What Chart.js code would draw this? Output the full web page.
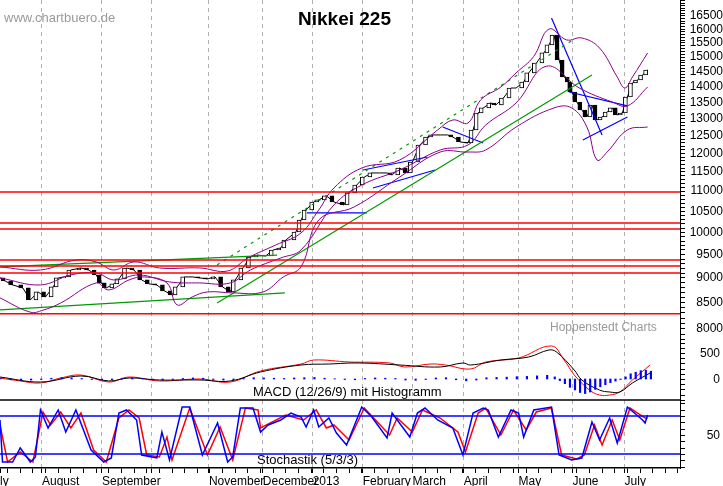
<!DOCTYPE html>
<html>
<head>
<meta charset="utf-8">
<script src="https://cdn.jsdelivr.net/npm/chart.js@4/dist/chart.umd.min.js"></script>
<style>
  body { margin: 0; background: #fff; }
  #wrap { position: relative; width: 723px; height: 486px; font-family: "Liberation Sans", Arial, sans-serif; }
  .txt { position: absolute; white-space: nowrap; }
</style>
</head>
<body>
<div id="wrap">
  <canvas id="nikkeiChart" width="723" height="486"></canvas>
  <div class="txt" style="left:4px;top:10px;font-size:13px;color:#9a9a9a;">www.chartbuero.de</div>
  <div class="txt" style="left:298px;top:8px;font-size:19px;font-weight:bold;color:#000;">Nikkei 225</div>
  <div class="txt" style="left:550px;top:320px;font-size:12px;color:#9a9a9a;">Hoppenstedt Charts</div>
  <div class="txt" style="left:253px;top:384px;font-size:13px;color:#000;">MACD (12/26/9) mit Histogramm</div>
  <div class="txt" style="left:257px;top:452px;font-size:13px;color:#000;">Stochastik (5/3/3)</div>
</div>
<script>
// x unit = trading day since mid July 2012
var dayMax = 268.8;
var monthDays = [0, 16.6, 40.3, 60, 82.6, 103.9, 123.6, 143.4, 163.1, 183.3, 205, 226.3, 246.9];
var monthNames = ['ly', 'August', 'September', '', 'November', 'December', '2013', 'February', 'March', 'April', 'May', 'June', 'July'];

var priceDays = [0,2,5,9,12,15,18,21,23,26,28,32,35,38,40,42,45,47,50,53,56,59,62,65,68,70,73,76,79,82,85,88,91,93,96,99,102,105,108,111,113,117,119,121,124,126,129,132,136,138,141,144,147,150,153,155,158,161,163,166,169,171,174,177,179,182,185,187,189,191,194,196,199,202,204,207,209,212,215,217,219,221,223,225,226,228,230,232,234,236,238,240,242,244,246,248,250,252,254,256];
var priceClose = [8998,8935,8853,8792,8551,8711,8611,8812,8998,9019,9165,9208,9165,9061,8894,8792,8874,8977,9208,9165,8956,8874,8853,8731,8651,8812,9019,9019,8998,8977,9019,8812,8711,8956,9208,9445,9487,9466,9599,9644,9824,10008,10290,10531,10728,10778,10880,10728,10654,10954,11157,11366,11473,11473,11473,11420,11606,11473,11768,12240,12470,12528,12528,12528,12470,12326,12297,12673,13181,13336,13491,13428,13647,13966,13966,14161,14463,14799,15147,15430,15790,14902,14326,14161,13838,13522,13273,13060,13428,12970,13060,13212,13336,13121,13181,13679,14130,14228,14394,14561];

var upperDays = [0,16,30,38,45,53,63,79,90,98,109,119,126,132,143,158,173,179,185,190,198,204,211,217,224,230,237,244,247,250,256];
var upperBand = [9230,9165,9380,9337,9165,9337,9208,9208,9144,9424,9711,9985,10531,11081,11606,11823,12673,12970,12880,13584,13999,14463,15027,16009,15610,15682,15321,14326,13966,14326,15147];
var midDays = [0,16,28,38,45,55,67,79,91,99,111,119,132,143,158,174,185,192,204,216,229,242,248,256];
var midBand = [8998,8853,9061,9103,8956,9061,8915,8894,8894,9165,9424,9599,10654,11157,11552,12100,12240,12820,13491,14689,13966,13522,13399,13999];
var lowerDays = [0,12,17,24,38,43,51,57,66,70,76,82,92,104,112,119,126,140,158,174,185,192,204,219,226,232,236,240,248,256];
var lowerBand = [8591,8312,8351,8491,8894,8751,8956,9019,8894,8454,8611,8711,8691,8711,9019,9230,10290,10605,11366,12042,12042,12100,12760,13337,13337,12760,11823,12042,12673,12760];

var redLevels = [10980, 10220, 10075, 9380, 9250, 9100, 8280];
var greenLines = [[0,8356,112.6,8691],[0,9230,109.5,9487],[85.8,8492,234,14394]];
var greenDashed = [[85.8,9272,226.5,15610]];
var blueLines = [[121.3,10458,145,10458],[143.5,11552,169,11905],[147.4,11081,172,11552],[175,12760,191,12297],[218,16424,238,12526],[225,13838,248,13399],[230.4,12383,248,13060]];

var macdDays = [0,16,32,43,51,63,79,91,103,119,130,142,158,174,183,186,198,209,217,220,227,230,237,241,245,250,257];
var macdLine = [38,-58,58,-38,19,-19,-19,-38,135,269,288,308,269,231,308,269,365,423,558,519,173,-19,-212,-250,-250,-77,115];
var signalDays = [0,8,16,24,32,43,51,63,79,91,103,119,124,138,154,160,170,176,186,192,205,218,223,227,233,237,241,245,250,257];
var signalLine = [19,-38,-77,19,77,-58,38,-38,0,-58,154,288,365,327,308,231,288,269,192,327,404,635,365,77,-212,-308,-308,-250,-19,269];
var histDays = [0,4,8,12,16,20,24,28,32,36,40,44,48,52,56,60,64,68,72,76,80,84,88,92,96,100,104,108,112,116,120,124,128,132,136,140,144,148,152,156,160,164,168,172,176,180,184,188,192,196,200,204,208,212,216,219,221,223,225,227,229,231,233,235,237,239,241,243,245,247,249,251,253,255,257];
var histValues = [10,-15,-25,-20,-10,15,25,20,10,-10,-20,-15,10,20,10,-15,-20,-10,10,20,15,-10,-20,-15,10,25,20,15,10,20,25,30,15,5,-10,-15,10,20,15,10,-20,-25,-10,20,25,-15,-35,-20,25,30,35,45,50,60,70,40,-30,-90,-160,-210,-260,-280,-250,-200,-150,-110,-70,-40,-10,40,100,130,160,170,150];

var stochKDays = [0,1,5,8,12,14,16,19,23,26,30,36,41,44,47,50,54,56,62,64,67,72,75,80,86,90,92,95,100,103,106,111,115,119,121,124,126,130,133,137,143,147,153,155,162,165,168,173,179,183,187,191,193,197,202,205,207,211,218,221,226,230,234,237,241,244,248,254,255,256];
var stochK = [73.7,7.4,7.4,29.5,7.4,15.3,89.5,61.1,89.5,54.7,89.5,26.3,7.4,13.7,84.7,89.5,73.7,18.4,13.7,54.7,10.5,94.2,94.2,18.4,68.9,7.4,15.3,92.6,92.6,54.7,65.8,73.7,84.7,78.4,62.6,89.5,62.6,76.8,53.2,34.2,94.2,78.4,45.3,84.7,46.8,84.7,92.6,73.7,61.1,18.4,84.7,92.6,89.5,46.8,89.5,84.7,46.8,89.5,94.2,18.4,10.5,13.7,70.5,42.1,76.8,37.4,94.2,73.7,68.9,81.6];
var stochDDays = [0,3,8,13,17,20,24,28,32,37,42,47,51,55,58,63,66,68,75,82,87,92,97,102,103,113,120,125,129,132,138,144,154,157,163,167,174,181,184,189,192,198,203,208,212,218,222,228,231,235,238,242,245,249,255,256];
var stochD = [65.8,7.4,23.2,7.4,86.3,65.8,86.3,61.1,84.7,26.3,7.4,76.8,89.5,76.8,18.4,15.3,46.8,10.5,92.6,18.4,62.6,10.5,92.6,89.5,61.1,81.6,73.7,89.5,61.1,65.8,42.1,92.6,50,76.8,54.7,89.5,76.8,54.7,23.2,84.7,92.6,50,89.5,57.9,86.3,92.6,18.4,12.1,18.4,65.8,34.2,73.7,42.1,92.6,76.8,76.8];
var stochLevels = [80, 20];
var panelBorder = 105.3; // stochastic scale value of the MACD/stochastic divider

function pts(xs, ys) {
  return xs.map(function (x, i) { return { x: x, y: ys[i] }; });
}
function seg(s) { return [{ x: s[0], y: s[1] }, { x: s[2], y: s[3] }]; }
function lineDs(data, color, axis, extra) {
  var ds = { type: 'line', data: data, borderColor: color, borderWidth: 1, pointRadius: 0, yAxisID: axis, tension: 0 };
  for (var k in extra) ds[k] = extra[k];
  return ds;
}

var datasets = [];
redLevels.forEach(function (v) {
  datasets.push(lineDs([{ x: 0, y: v }, { x: dayMax, y: v }], '#ff0000', 'y', { borderWidth: 1.5 }));
});
datasets.push(lineDs([{ x: 0, y: panelBorder }, { x: dayMax, y: panelBorder }], '#000000', 'yStoch', { borderWidth: 1.5 }));
stochLevels.forEach(function (v) {
  datasets.push(lineDs([{ x: 0, y: v }, { x: dayMax, y: v }], '#0000ff', 'yStoch', { borderWidth: 1.5 }));
});
datasets.push(lineDs(pts(upperDays, upperBand), '#8b008b', 'y', { tension: 0.4 }));
datasets.push(lineDs(pts(midDays, midBand), '#8b008b', 'y', { tension: 0.4 }));
datasets.push(lineDs(pts(lowerDays, lowerBand), '#8b008b', 'y', { tension: 0.4 }));
greenLines.forEach(function (s) { datasets.push(lineDs(seg(s), '#009900', 'y', { borderWidth: 1.2 })); });
greenDashed.forEach(function (s) { datasets.push(lineDs(seg(s), '#009900', 'y', { borderDash: [3, 5], borderWidth: 1.2 })); });
blueLines.forEach(function (s) { datasets.push(lineDs(seg(s), '#0000ff', 'y', { borderWidth: 1.2 })); });

// candle bodies: previous close to close
var candles = priceDays.map(function (d, i) {
  var open = i === 0 ? priceClose[0] * 1.003 : priceClose[i - 1];
  return { x: d, y: [open, priceClose[i]] };
});
datasets.push({
  type: 'bar', data: candles, yAxisID: 'y', barThickness: 4, borderSkipped: false, borderWidth: 1,
  borderColor: '#000',
  backgroundColor: candles.map(function (c) { return c.y[1] < c.y[0] ? '#000' : '#fff'; })
});
datasets.push(lineDs(pts(priceDays, priceClose), '#000', 'y', { borderWidth: 1 }));

datasets.push({ type: 'bar', data: pts(histDays, histValues), yAxisID: 'yMacd', barThickness: 1.5, backgroundColor: '#0000ff' });
datasets.push(lineDs(pts(macdDays, macdLine), '#000', 'yMacd', { tension: 0.4 }));
datasets.push(lineDs(pts(signalDays, signalLine), '#ff0000', 'yMacd', { tension: 0.4 }));
datasets.push(lineDs(pts(stochKDays, stochK), '#0000ff', 'yStoch', { borderWidth: 1.5 }));
datasets.push(lineDs(pts(stochDDays, stochD), '#ff0000', 'yStoch', { borderWidth: 1.5 }));

var labelFont = { family: '"Liberation Sans", Arial, sans-serif', size: 12 };

// tick labels for the two lower panels, read through their hidden scales
var panelAxes = {
  id: 'panelAxes',
  afterDraw: function (chart) {
    var ctx = chart.ctx, right = chart.chartArea.right;
    ctx.save();
    ctx.strokeStyle = '#000';
    ctx.lineWidth = 1;
    ctx.fillStyle = '#000';
    ctx.font = '12px "Liberation Sans", Arial, sans-serif';
    ctx.textAlign = 'right';
    ctx.textBaseline = 'middle';
    var m = chart.scales.yMacd, s = chart.scales.yStoch;
    for (var v = -400; v <= 700; v += 100) {
      var y = Math.round(m.getPixelForValue(v)) + 0.5;
      ctx.beginPath(); ctx.moveTo(right, y); ctx.lineTo(right + 5, y); ctx.stroke();
      if (v === 500 || v === 0) ctx.fillText(String(v), chart.width - 3, y);
    }
    for (var w = 0; w <= 100; w += 10) {
      var y2 = Math.round(s.getPixelForValue(w)) + 0.5;
      ctx.beginPath(); ctx.moveTo(right, y2); ctx.lineTo(right + 5, y2); ctx.stroke();
      if (w === 50) ctx.fillText('50', chart.width - 3, y2);
    }
    ctx.restore();
  }
};

new Chart(document.getElementById('nikkeiChart').getContext('2d'), {
  type: 'line',
  data: { datasets: datasets },
  plugins: [panelAxes],
  options: {
    responsive: false,
    animation: false,
    layout: { padding: 0 },
    plugins: { legend: { display: false }, tooltip: { enabled: false } },
    scales: {
      x: {
        type: 'linear', min: 0, max: dayMax, position: 'bottom', offset: false,
        afterBuildTicks: function (scale) {
          var t = monthDays.map(function (d) { return { value: d, major: true }; });
          for (var d = 3; d < dayMax; d += 5) t.push({ value: d });
          t.sort(function (a, b) { return a.value - b.value; });
          scale.ticks = t;
        },
        afterFit: function (scale) {
          scale.height = 18;
          scale.paddingLeft = 0; scale.paddingRight = 0;
        },
        ticks: {
          autoSkip: false, maxRotation: 0, align: 'start', padding: 1,
          color: '#000', font: labelFont,
          callback: function (v) { var i = monthDays.indexOf(v); return i >= 0 ? monthNames[i] : ''; }
        },
        grid: {
          offset: false,
          color: function (c) { return c.tick && c.tick.major && c.tick.value > 0 ? '#b0b0b0' : 'rgba(0,0,0,0)'; },
          tickColor: '#000', tickLength: 5, tickBorderDash: [], borderDash: [4, 4]
        },
        border: { color: '#000', width: 1.5, dash: [4, 4] }
      },
      y: {
        type: 'logarithmic', position: 'right', min: 5795, max: 17122,
        afterBuildTicks: function (scale) {
          var t = [];
          for (var v = 7800; v <= 17100; v += 100) t.push({ value: v });
          scale.ticks = t;
        },
        afterFit: function (scale) {
          scale.width = 43;
          scale.paddingTop = 0; scale.paddingBottom = 0;
        },
        ticks: {
          autoSkip: false, crossAlign: 'far', color: '#000', font: labelFont,
          callback: function (v) { return (v % 500 === 0 && v >= 8000 && v <= 16500) ? String(v) : ''; }
        },
        grid: { drawOnChartArea: false, tickLength: 5, tickColor: '#000' },
        border: { color: '#000', width: 1 }
      },
      yMacd: { type: 'linear', display: false, min: -1711.5, max: 7288 },
      yStoch: { type: 'linear', display: false, min: -2.1, max: 736.9 }
    }
  }
});
</script>
</body>
</html>
